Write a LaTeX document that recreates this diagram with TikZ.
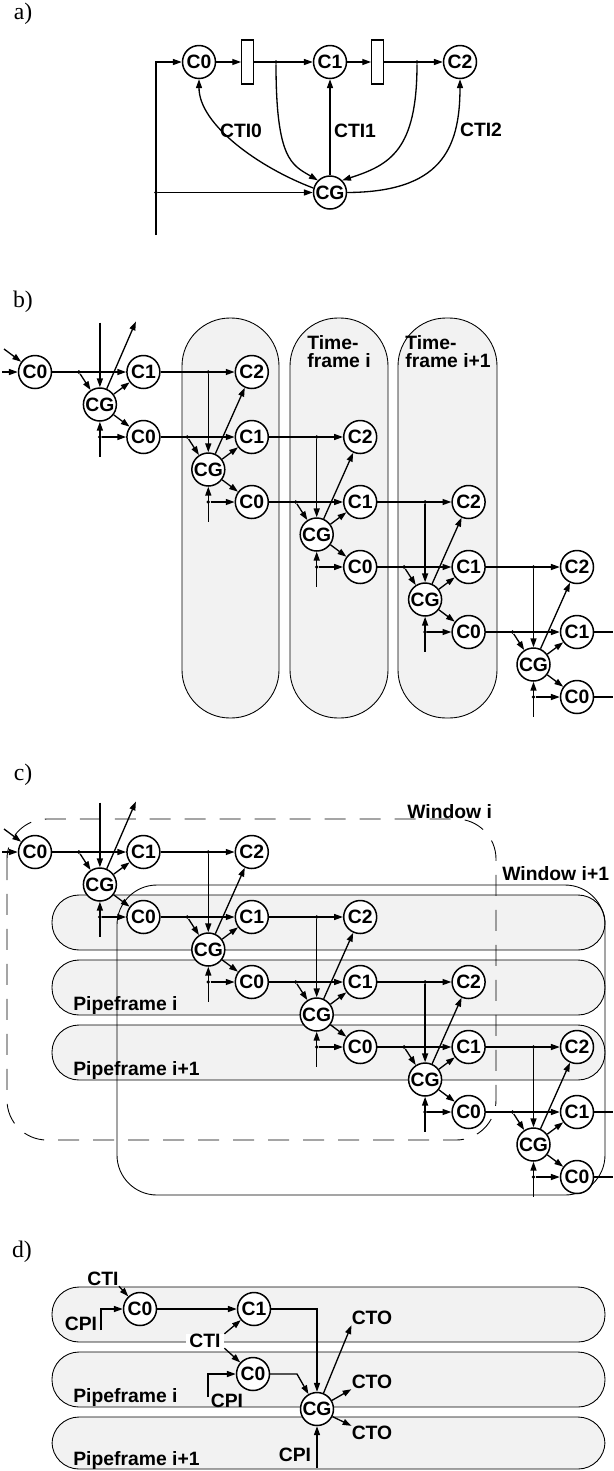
\documentclass[tikz,border=0pt]{standalone}
\usepackage{fontspec}
\setmainfont{Liberation Serif}
\setsansfont{Liberation Sans}
\usetikzlibrary{arrows.meta, calc}
\tikzset{
  cc node/.style={
    circle, draw=black, line width=0.85pt, fill=white,
    minimum size=0.66cm, inner sep=0pt,
    font=\sffamily\bfseries\fontsize{11pt}{10.4pt}\selectfont
  },
  reg box/.style={
    rectangle, draw=black, line width=0.75pt, fill=white,
    minimum width=0.23cm, minimum height=0.88cm, inner sep=0pt
  },
  cc arrow/.style={
    -{Triangle[length=5pt,width=3.4pt]}, line width=0.75pt
  },
  cc line/.style={line width=0.75pt},
  jdot/.style={circle, fill=black, minimum size=2.2pt, inner sep=0pt},
  cc label/.style={
    font=\sffamily\bfseries\fontsize{11pt}{10.4pt}\selectfont, inner sep=0pt
  },
  part label/.style={font=\fontsize{13.5pt}{13.5pt}\selectfont, inner sep=0pt},
  frame pill/.style={draw=black, line width=0.5pt, fill=black!5}
}

\begin{document}
\begin{tikzpicture}[x=0.02cm, y=-0.02cm]
\useasboundingbox (0,0) rectangle (613,1471);

% ====== a) single pipeline with clock gating ======
\node[part label] (la) at (23,14) {a)};
\node[cc node] (a-c0) at (199,62) {C0};
\node[reg box] (a-r0) at (247.5,62) {};
\node[cc node] (a-c1) at (330,62) {C1};
\node[reg box] (a-r1) at (377.5,62) {};
\node[cc node] (a-c2) at (460,62) {C2};
\node[cc node] (a-cg) at (330,192.5) {CG};
\node[jdot] (a-j0) at (276,62) {};
\node[jdot] (a-j1) at (417,62) {};
\node[jdot] (a-j2) at (156,192.5) {};
\coordinate (a-in) at (156,235);
\coordinate (a-top) at (156,62);
\draw[cc arrow] (a-c0) -- (a-r0);
\draw[cc arrow] (a-r0) -- (a-c1);
\draw[cc arrow] (a-c1) -- (a-r1);
\draw[cc arrow] (a-r1) -- (a-c2);
\draw[cc arrow] (a-in) -- (a-top) -- (a-c0);
\draw[cc arrow] (a-j2) -- (a-cg);
\draw[cc arrow] (a-cg.165) .. controls (260,168) and (199,125) .. (a-c0.south);
\draw[cc arrow] (a-j0) .. controls (276,160) and (292,165) .. (a-cg.135);
\draw[cc arrow] (a-cg) -- (a-c1);
\draw[cc arrow] (a-j1) .. controls (417,150) and (390,165) .. (a-cg.45);
\draw[cc arrow] (a-cg.east) .. controls (440,192) and (460,150) .. (a-c2.south);
\node[cc label] (a-t0) at (241,131) {CTI0};
\node[cc label] (a-t1) at (355,131) {CTI1};
\node[cc label] (a-t2) at (481,130) {CTI2};

% ====== b) timeframes ======
\node[part label] (lb) at (23,302) {b)};
\draw[frame pill, rounded corners=0.96cm] (182,318) rectangle (279,718);
\draw[frame pill, rounded corners=0.96cm] (290,318) rectangle (388,718);
\draw[frame pill, rounded corners=0.96cm] (398,318) rectangle (497,718);
\node[cc label, align=left, anchor=north west] (b-tf1) at (307,335) {Time-\\frame i};
\node[cc label, align=left, anchor=north west] (b-tf2) at (405,335) {Time-\\frame i+1};

% ====== c) pipeframes and windows ======
\node[part label] (lc) at (23,775) {c)};
\draw[frame pill, rounded corners=0.54cm] (52,895) rectangle (605,950);
\draw[frame pill, rounded corners=0.54cm] (52,960) rectangle (605,1015);
\draw[frame pill, rounded corners=0.54cm] (52,1025) rectangle (605,1080);
\node[cc label, anchor=base west] (c-pf1) at (73,1010) {Pipeframe i};
\node[cc label, anchor=base west] (c-pf2) at (73,1075) {Pipeframe i+1};
\draw[line width=0.5pt, rounded corners=0.8cm] (117,885) rectangle (605,1195);
\draw[line width=0.5pt, dash pattern=on 0.42cm off 0.28cm, rounded corners=0.8cm]
  (7,819) rectangle (496,1140);
\node[cc label, anchor=base west] (c-w1) at (407,818) {Window i};
\node[cc label, anchor=base west] (c-w2) at (502,880) {Window i+1};

% -- unrolled pipeline, same for b) and c) --
\foreach \p/\oy in {b/0, c/480} {
  \node[cc node] (\p-c0-0) at (35,372+\oy) {C0};
  \coordinate (\p-in1) at (4,349+\oy);
  \coordinate (\p-in2) at (2,372+\oy);
  \draw[cc arrow] (\p-in1) -- (\p-c0-0);
  \draw[cc arrow] (\p-in2) -- (\p-c0-0);
  \foreach \k in {1,...,5} {
    \pgfmathtruncatemacro\km{\k-1}
    \pgfmathsetmacro\xk{35+108.4*\k}
    \pgfmathsetmacro\xg{\xk-43.5}
    \pgfmathsetmacro\yk{372+65*\k+\oy}
    \pgfmathsetmacro\yp{\yk-65}
    \pgfmathsetmacro\ypp{\yk-130}
    \pgfmathsetmacro\yg{\yk-32.5}
    \node[cc node] (\p-cg-\k) at (\xg,\yg) {CG};
    \node[cc node] (\p-c1-\k) at (\xk,\yp) {C1};
    \node[cc node] (\p-c0-\k) at (\xk,\yk) {C0};
    \node[jdot] (\p-ja-\k) at (\xg-21,\yp) {};
    \node[jdot] (\p-jc-\k) at (\xg,\yk) {};
    \coordinate (\p-lo-\k) at (\xg,\yg+52);
    \draw[cc arrow] (\p-c0-\km) -- (\p-c1-\k);
    \draw[cc arrow] (\p-ja-\k) -- (\p-cg-\k);
    \draw[cc arrow] (\p-cg-\k) -- (\p-c1-\k);
    \draw[cc arrow] (\p-cg-\k) -- (\p-c0-\k);
    \draw[cc arrow] (\p-lo-\k) -- (\p-cg-\k);
    \draw[cc arrow] (\p-jc-\k) -- (\p-c0-\k);
    \ifnum\k=1
      \coordinate (\p-up-\k) at (\xg,\yg-82);
      \coordinate (\p-out-\k) at (\xg+36,\yg-83);
      \draw[cc arrow] (\p-up-\k) -- (\p-cg-\k);
      \draw[cc arrow] (\p-cg-\k) -- (\p-out-\k);
    \else
      \node[cc node] (\p-c2-\k) at (\xk,\ypp) {C2};
      \node[jdot] (\p-jb-\k) at (\xg,\ypp) {};
      \draw[cc arrow] (\p-c1-\km) -- (\p-c2-\k);
      \draw[cc arrow] (\p-jb-\k) -- (\p-cg-\k);
      \draw[cc arrow] (\p-cg-\k) -- (\p-c2-\k);
    \fi
  }
  \coordinate (\p-e1) at (613,632+\oy);
  \coordinate (\p-e0) at (613,697+\oy);
  \draw[cc line] (\p-c1-5) -- (\p-e1);
  \draw[cc line] (\p-c0-5) -- (\p-e0);
}

% ====== d) one clock gate across pipeframes ======
\node[part label] (ld) at (22,1252) {d)};
\draw[frame pill, rounded corners=0.54cm] (52,1287) rectangle (605,1342);
\draw[frame pill, rounded corners=0.54cm] (52,1352) rectangle (605,1407);
\draw[frame pill, rounded corners=0.54cm] (52,1417) rectangle (605,1469);
\node[cc label, anchor=base west] (d-pf1) at (73,1402) {Pipeframe i};
\node[cc label, anchor=base west] (d-pf2) at (73,1465) {Pipeframe i+1};
\node[cc node] (d-c0a) at (140,1309) {C0};
\node[cc node] (d-c1) at (254,1309) {C1};
\node[cc node] (d-c0b) at (253,1374) {C0};
\node[cc node] (d-cg) at (317,1409) {CG};
\node[cc label] (d-cti0) at (103,1279) {CTI};
\node[cc label] (d-cpi0) at (81,1324) {CPI};
\node[cc label, fill=white, inner xsep=2pt] (d-cti1) at (205,1341) {CTI};
\node[cc label] (d-cpi1) at (227,1401) {CPI};
\node[cc label] (d-cpi2) at (295,1455) {CPI};
\node[cc label] (d-cto0) at (372,1318) {CTO};
\node[cc label] (d-cto1) at (372,1382) {CTO};
\node[cc label] (d-cto2) at (372,1433) {CTO};
\coordinate (d-b0) at (101,1330);
\coordinate (d-b0t) at (101,1309);
\draw[cc arrow] (d-b0) -- (d-b0t) -- (d-c0a);
\draw[cc arrow] (d-cti0.south east) -- (d-c0a);
\draw[cc arrow] (d-c0a) -- (d-c1);
\coordinate (d-k1) at (317,1309);
\draw[cc arrow] (d-c1) -- (d-k1) -- (d-cg);
\draw[cc arrow] (d-cti1.north east) -- (d-c1);
\draw[cc arrow] (d-cti1.south east) -- (d-c0b);
\coordinate (d-b1) at (208,1397);
\coordinate (d-b1t) at (208,1374);
\draw[cc arrow] (d-b1) -- (d-b1t) -- (d-c0b);
\coordinate (d-k2) at (297,1374);
\draw[cc arrow] (d-c0b) -- (d-k2) -- (d-cg);
\draw[cc arrow] (d-cg) -- (d-cto0.south west);
\draw[cc arrow] (d-cg) -- (d-cto1.south west);
\draw[cc arrow] (d-cg) -- (d-cto2.north west);
\coordinate (d-b2) at (317,1468);
\draw[cc arrow] (d-b2) -- (d-cg);

\end{tikzpicture}
\end{document}
